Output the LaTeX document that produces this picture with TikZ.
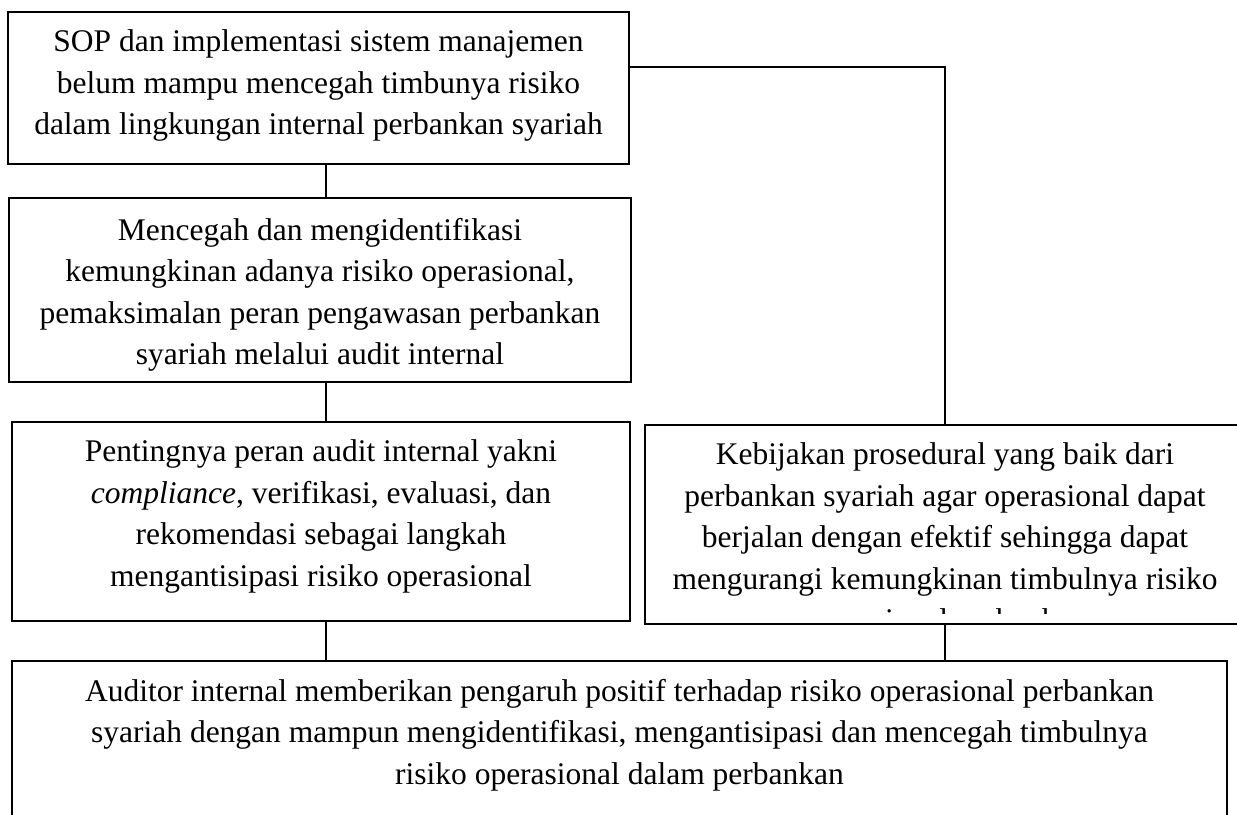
\documentclass[tikz,border=0pt]{standalone}
\usepackage{fontspec}
\setmainfont{Liberation Serif}
\usetikzlibrary{positioning}

\begin{document}
\begin{tikzpicture}[x=0.381pt,y=-0.381pt,
      kotak/.style={draw,line width=0.6pt,inner sep=0pt},
      isi/.style={inner sep=0pt,align=center,font=\fontsize{12}{15.8}\selectfont},
      garis/.style={line width=0.45pt}]
    \clip (0,0) rectangle (1237,815);
    % kotak-kotak
    \node[kotak,minimum width=236.6pt,minimum height=57.9pt] (sop)       at (318.5,88)  {};
    \node[kotak,minimum width=237.0pt,minimum height=70.1pt] (cegah)     at (320,290)   {};
    \node[kotak,minimum width=235.5pt,minimum height=75.8pt] (peran)     at (321,521.5) {};
    \node[kotak,minimum width=228.6pt,minimum height=75.8pt] (kebijakan) at (945,524.5) {};
    \node[kotak,minimum width=462.9pt,minimum height=64.4pt] (auditor)   at (619.5,745.5) {};
    % isi teks
    \node[isi,below=7pt of sop.north]   (sop-isi)   {SOP dan implementasi sistem manajemen\\ belum mampu mencegah timbunya risiko\\ dalam lingkungan internal perbankan syariah};
    \node[isi,below=7.8pt of cegah.north] (cegah-isi) {Mencegah dan mengidentifikasi\\ kemungkinan adanya risiko operasional,\\ pemaksimalan peran pengawasan perbankan\\ syariah melalui audit internal};
    \node[isi,below=7pt of peran.north] (peran-isi) {Pentingnya peran audit internal yakni\\ \textit{compliance}, verifikasi, evaluasi, dan\\ rekomendasi sebagai langkah\\ mengantisipasi risiko operasional};
    \begin{scope}
      \clip (645,425) rectangle (1245,613);
      \node[isi,below=7pt of kebijakan.north] (kebijakan-isi) {Kebijakan prosedural yang baik dari\\ perbankan syariah agar operasional dapat\\ berjalan dengan efektif sehingga dapat\\ mengurangi kemungkinan timbulnya risiko\\ operasional perbankan};
    \end{scope}
    \node[isi,below=7pt of auditor.north] (auditor-isi) {Auditor internal memberikan pengaruh positif terhadap risiko operasional perbankan\\ syariah dengan mampun mengidentifikasi, mengantisipasi dan mencegah timbulnya\\ risiko operasional dalam perbankan};
    % garis penghubung
    \coordinate (kiri)  at (326,0);
    \coordinate (belok) at (945,67);
    \draw[garis] (sop.south -| kiri) -- (cegah.north -| kiri);
    \draw[garis] (cegah.south -| kiri) -- (peran.north -| kiri);
    \draw[garis] (peran.south -| kiri) -- (auditor.north -| kiri);
    \draw[garis] (sop.east |- belok) -- (belok) -- (kebijakan.north);
    \draw[garis] (kebijakan.south) -- (kebijakan.south |- auditor.north);
  \end{tikzpicture}
\end{document}
